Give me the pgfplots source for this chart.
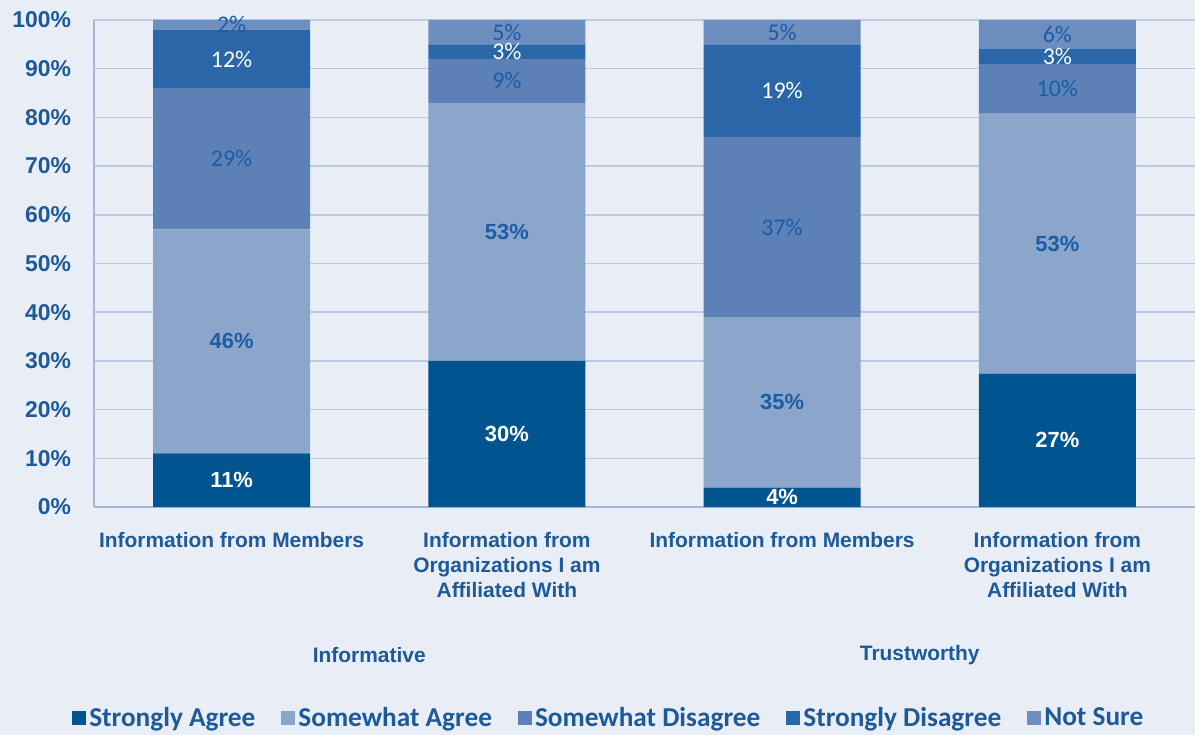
\documentclass[border=0pt]{standalone}
\usepackage{fontspec}
\setmainfont{Liberation Sans}
\newfontfamily\calibri{Carlito}
\usepackage{pgfplots}
\pgfplotsset{compat=1.18}
\definecolor{bg}{HTML}{E9EDF5}
\definecolor{sa}{HTML}{00548F}
\definecolor{soa}{HTML}{8CA5CB}
\definecolor{sd}{HTML}{5B81B7}
\definecolor{std}{HTML}{2A66A8}
\definecolor{ns}{HTML}{6E8EC0}
\definecolor{textc}{HTML}{1D5A9A}
\definecolor{lblc}{HTML}{1C5DA6}
\definecolor{axisc}{HTML}{A7BAD9}
\definecolor{gridc}{HTML}{BCCAE3}
\begin{document}
\begin{tikzpicture}
\fill[bg] (-47bp,-114bp) rectangle (550.5bp,253.5bp);
\begin{axis}[
  at={(0,0)}, anchor=south west, scale only axis,
  width=550.5bp, height=243.5bp,
  ybar stacked, bar width=78.5bp,
  xmin=-0.5, xmax=3.5, ymin=0, ymax=100,
  xtick={0,1,2,3},
  xticklabels={Information from Members, {Information from\\Organizations I am\\Affiliated With}, Information from Members, {Information from\\Organizations I am\\Affiliated With}},
  xticklabel style={align=center, font=\bfseries\fontsize{10.5}{12.5}\selectfont, text=textc, yshift=-9bp},
  ytick={0,10,...,100},
  yticklabel={\pgfmathprintnumber{\tick}\%},
  /pgf/number format/assume math mode=true,
  yticklabel style={font=\bfseries\fontsize{11.5}{13}\selectfont, text=textc, xshift=-8bp},
  axis x line*=bottom, axis y line*=left,
  axis line style={draw=axisc, line width=0.8bp},
  major tick length=0pt,
  ymajorgrids, grid style={draw=gridc, line width=0.8bp},
  legend columns=5,
  legend style={at={(axis description cs:0.468,0)}, anchor=center, yshift=-105.5bp,
    draw=none, fill=none, font=\calibri\bfseries\fontsize{13.7}{16}\selectfont, text=textc,
    /tikz/every even column/.append style={column sep=11.5bp},
    nodes={inner xsep=1.5bp}},
  legend image code/.code={\fill[#1] (0bp,-3.5bp) rectangle (7bp,3.5bp);},
]
\addplot[fill=sa, draw=none] coordinates {(0,11) (1,30) (2,4) (3,27.4)};
\addplot[fill=soa, draw=none] coordinates {(0,46) (1,53) (2,35) (3,53.4)};
\addplot[fill=sd, draw=none] coordinates {(0,29) (1,9) (2,37) (3,10.2)};
\addplot[fill=std, draw=none] coordinates {(0,12) (1,3) (2,19) (3,3)};
\addplot[fill=ns, draw=none] coordinates {(0,2) (1,5) (2,5) (3,6)};
\legend{Strongly Agree, Somewhat Agree, Somewhat Disagree, Strongly Disagree, Not Sure}
\end{axis}
\begin{axis}[
  at={(0,0)}, anchor=south west, scale only axis,
  width=550.5bp, height=243.5bp,
  xmin=-0.5, xmax=3.5, ymin=0, ymax=100,
  axis lines=none, ticks=none, clip=false,
  nodes near coords={\pgfplotspointmeta},
  point meta=explicit symbolic,
]
\addplot[draw=none, mark=none, every node near coord/.style={anchor=center, text=white, font=\bfseries\fontsize{11}{13}\selectfont}]
  coordinates {(0,5.5)[11\%] (1,15)[30\%] (2,2)[4\%] (3,13.7)[27\%]};
\addplot[draw=none, mark=none, every node near coord/.style={anchor=center, text=lblc, font=\bfseries\fontsize{11}{13}\selectfont}]
  coordinates {(0,34)[46\%] (1,56.5)[53\%] (2,21.5)[35\%] (3,54.1)[53\%]};
\addplot[draw=none, mark=none, every node near coord/.style={anchor=center, text=lblc, font=\calibri\fontsize{12}{14}\selectfont}]
  coordinates {(0,71.5)[29\%] (1,87.5)[9\%] (2,57.5)[37\%] (3,85.9)[10\%]};
\addplot[draw=none, mark=none, every node near coord/.style={anchor=center, text=white, font=\calibri\fontsize{12}{14}\selectfont}]
  coordinates {(0,92)[12\%] (1,93.5)[3\%] (2,85.5)[19\%] (3,92.5)[3\%]};
\addplot[draw=none, mark=none, every node near coord/.style={anchor=center, text=lblc, font=\calibri\fontsize{12}{14}\selectfont}]
  coordinates {(0,99)[2\%] (1,97.5)[5\%] (2,97.5)[5\%] (3,97)[6\%]};
\node[font=\bfseries\fontsize{10.5}{12.5}\selectfont, text=textc] at (axis cs:0.5,0) [yshift=-74bp] {Informative};
\node[font=\bfseries\fontsize{10.5}{12.5}\selectfont, text=textc] at (axis cs:2.5,0) [yshift=-74bp] {Trustworthy};
\end{axis}
\pgfresetboundingbox
\useasboundingbox (-47bp,-114bp) rectangle (550.5bp,253.5bp);
\end{tikzpicture}
\end{document}
